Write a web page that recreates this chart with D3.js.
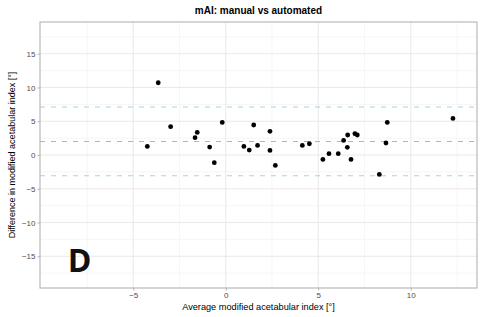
<!DOCTYPE html>
<html>
<head>
<meta charset="utf-8">
<script src="https://cdn.jsdelivr.net/npm/d3@7"></script>
<style>
  body { margin: 0; background: #fff; }
  text { font-family: "Liberation Sans", Arial, sans-serif; }
</style>
</head>
<body>
<svg id="chart"></svg>
<script>
const width = 485, height = 317;

// data
const avgValues = [-4.24, -3.65, -2.98, -1.66, -1.54, -0.87, -0.62, -0.19, 0.98, 1.27,
    1.51, 1.72, 2.39, 2.39, 2.68, 4.14, 4.52, 5.25, 5.58, 6.08,
    6.37, 6.59, 6.57, 6.77, 6.98, 7.11, 8.30, 8.73, 8.66, 12.28];
const diffValues = [1.27, 10.7, 4.19, 2.56, 3.35, 1.18, -1.14, 4.83, 1.27, 0.73,
    4.44, 1.42, 3.5, 0.68, -1.54, 1.42, 1.67, -0.65, 0.19, 0.19,
    2.16, 2.96, 1.13, -0.65, 3.16, 2.96, -2.87, 4.83, 1.78, 5.42];
const meanDiff = 2.01;
const limitsOfAgreement = [7.1, -3.07];
const xTicks = [-5, 0, 5, 10];
const yTicks = [-15, -10, -5, 0, 5, 10, 15];

const margin = {top: 22, right: 8, bottom: 29, left: 40};

const x = d3.scaleLinear()
    .domain([-10.04, 13.58])
    .range([margin.left, width - margin.right]);

const y = d3.scaleLinear()
    .domain([-19.7, 19.7])
    .range([height - margin.bottom, margin.top]);

const svg = d3.select("#chart")
    .attr("width", width)
    .attr("height", height);

// grid lines
const xMinor = d3.range(-7.5, 13.6, 5);
const yMinor = d3.range(-17.5, 19, 5);

svg.append("g").selectAll("line")
    .data(xMinor)
    .enter().append("line")
    .attr("x1", d => x(d)).attr("x2", d => x(d))
    .attr("y1", margin.top).attr("y2", height - margin.bottom)
    .attr("stroke", "#f0f0f0").attr("stroke-width", 0.6);

svg.append("g").selectAll("line")
    .data(yMinor)
    .enter().append("line")
    .attr("x1", margin.left).attr("x2", width - margin.right)
    .attr("y1", d => y(d)).attr("y2", d => y(d))
    .attr("stroke", "#f0f0f0").attr("stroke-width", 0.6);

svg.append("g").selectAll("line")
    .data(xTicks)
    .enter().append("line")
    .attr("x1", d => x(d)).attr("x2", d => x(d))
    .attr("y1", margin.top).attr("y2", height - margin.bottom)
    .attr("stroke", "#e6e6e6").attr("stroke-width", 0.9);

svg.append("g").selectAll("line")
    .data(yTicks)
    .enter().append("line")
    .attr("x1", margin.left).attr("x2", width - margin.right)
    .attr("y1", d => y(d)).attr("y2", d => y(d))
    .attr("stroke", "#e6e6e6").attr("stroke-width", 0.9);

// reference lines
svg.append("line")
    .attr("x1", margin.left).attr("x2", width - margin.right)
    .attr("y1", y(meanDiff)).attr("y2", y(meanDiff))
    .attr("stroke", "#b3b3b3").attr("stroke-width", 1.1)
    .attr("stroke-dasharray", "5,6");

svg.append("g").selectAll("line")
    .data(limitsOfAgreement)
    .enter().append("line")
    .attr("x1", margin.left).attr("x2", width - margin.right)
    .attr("y1", d => y(d)).attr("y2", d => y(d))
    .attr("stroke", "#a6d3e3").attr("stroke-width", 1.1)
    .attr("stroke-dasharray", "5,6");

// points
svg.append("g").selectAll("circle")
    .data(avgValues)
    .enter().append("circle")
    .attr("cx", d => x(d))
    .attr("cy", (d, i) => y(diffValues[i]))
    .attr("r", 2.4)
    .attr("fill", "#000");

// panel border
svg.append("rect")
    .attr("x", margin.left).attr("y", margin.top)
    .attr("width", width - margin.left - margin.right)
    .attr("height", height - margin.top - margin.bottom)
    .attr("fill", "none")
    .attr("stroke", "#b3b3b3").attr("stroke-width", 1.1);

// axes
const xAxis = svg.append("g")
    .attr("transform", "translate(0," + (height - margin.bottom) + ")")
    .call(d3.axisBottom(x).tickValues(xTicks).tickSize(2.5).tickPadding(2));

const yAxis = svg.append("g")
    .attr("transform", "translate(" + margin.left + ",0)")
    .call(d3.axisLeft(y).tickValues(yTicks).tickSize(2.5).tickPadding(2));

[xAxis, yAxis].forEach(function (a) {
    a.select(".domain").remove();
    a.selectAll(".tick line").attr("stroke", "#b3b3b3");
    a.selectAll(".tick text")
        .attr("fill", "#4d4d4d")
        .style("font-size", "8px")
        .style("font-family", "Liberation Sans, Arial, sans-serif");
});

// titles
svg.append("text")
    .attr("x", (margin.left + width - margin.right) / 2)
    .attr("y", 14)
    .attr("text-anchor", "middle")
    .style("font-size", "10px")
    .style("font-weight", "bold")
    .text("mAI: manual vs automated");

svg.append("text")
    .attr("x", (margin.left + width - margin.right) / 2)
    .attr("y", height - 7)
    .attr("text-anchor", "middle")
    .style("font-size", "9.2px")
    .text("Average modified acetabular index [°]");

svg.append("text")
    .attr("transform", "translate(15," + ((margin.top + height - margin.bottom) / 2) + ") rotate(-90)")
    .attr("text-anchor", "middle")
    .style("font-size", "9px")
    .text("Difference in modified acetabular index [°]");

// panel tag
svg.append("text")
    .attr("x", 79.5)
    .attr("y", 272)
    .attr("text-anchor", "middle")
    .style("font-family", "Open Sans, sans-serif")
    .style("font-size", "32px")
    .style("font-weight", "bold")
    .attr("fill", "#111")
    .text("D");
</script>
</body>
</html>
